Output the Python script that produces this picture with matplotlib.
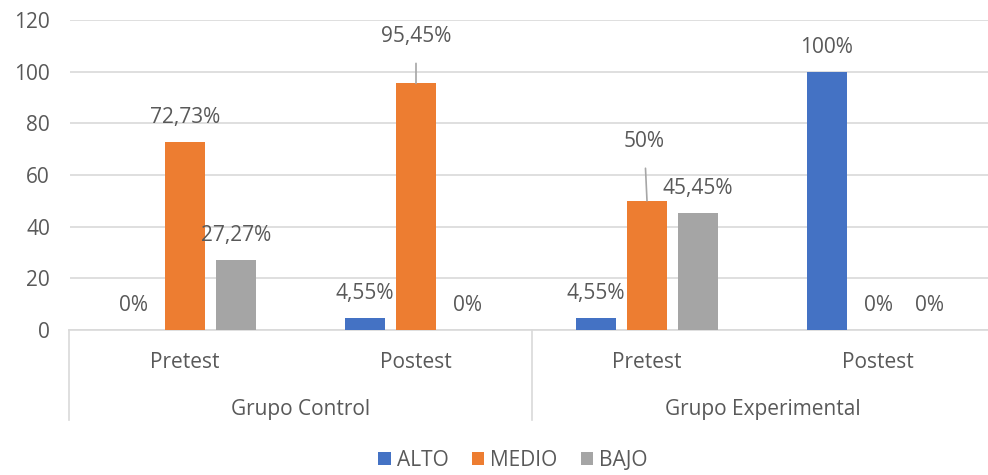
"""nivel alcanzado por grupo y momento (pretest / postest), barras agrupadas estilo excel"""
import matplotlib

matplotlib.use("Agg")
import matplotlib.pyplot as plt  # noqa: E402
import matplotlib.transforms as mtransforms  # noqa: E402
import numpy as np  # noqa: E402

plt.rcParams["font.family"] = ["Open Sans", "DejaVu Sans"]

GROUPS = ["Grupo Control", "Grupo Experimental"]
MOMENTS = ["Pretest", "Postest", "Pretest", "Postest"]
LEVELS = ["ALTO", "MEDIO", "BAJO"]
ALTO = [0.0, 4.55, 4.55, 100.0]
MEDIO = [72.73, 95.45, 50.0, 0.0]
BAJO = [27.27, 0.0, 45.45, 0.0]
LABELS = [
    ["0%", "4,55%", "4,55%", "100%"],
    ["72,73%", "95,45%", "50%", "0%"],
    ["27,27%", "0%", "45,45%", "0%"],
]
COLORS = ["#4472C4", "#ED7D31", "#A5A5A5"]
TXT = "#595959"
GRID = "#d9d9d9"
FS = 15

W, H = 988, 475
fig = plt.figure(figsize=(W / 100, H / 100), dpi=100)
ax = fig.add_axes([69.5 / W, 1 - 330 / H, 924 / W, 310 / H])

x = np.arange(len(MOMENTS))
step, width = 0.221, 0.173
series = [ALTO, MEDIO, BAJO]
# label offsets in points (excel moved two labels up with leader lines)
special = {(1, 1): (0, 34), (1, 2): (-2, 43)}
for i, (vals, col, name) in enumerate(zip(series, COLORS, LEVELS)):
    xs = x + (i - 1) * step
    ax.bar(xs, vals, width, color=col, label=name, zorder=3)
    for j, (xx, v) in enumerate(zip(xs, vals)):
        dx, dy = special.get((i, j), (0, 17.5))
        arrow = None
        if (i, j) in special:
            arrow = dict(arrowstyle="-", color="#a6a6a6", lw=1.2, shrinkA=10, shrinkB=0)
        ax.annotate(LABELS[i][j], xy=(xx, v), xytext=(dx, dy), textcoords="offset points",
                    ha="center", va="center", fontsize=FS, color=TXT, arrowprops=arrow)

ax.set_xlim(-0.5, 3.5)
ax.set_ylim(0, 120)
ax.set_yticks(range(0, 121, 20))
ax.tick_params(axis="y", length=0, labelsize=FS, labelcolor=TXT, pad=14)
ax.set_xticks([])
ax.grid(axis="y", color=GRID, lw=1.2, zorder=0)
for s in ["top", "right", "left"]:
    ax.spines[s].set_visible(False)
ax.spines["bottom"].set_color(GRID)
ax.spines["bottom"].set_linewidth(1.2)

# two-level category axis
trans = mtransforms.blended_transform_factory(ax.transData, fig.transFigure)
for xx, m in zip(x, MOMENTS):
    ax.text(xx, 1 - 362 / H, m, transform=trans, ha="center", va="center",
            fontsize=FS, color=TXT)
for g, name in enumerate(GROUPS):
    ax.text(2 * g + 0.5, 1 - 409 / H, name, transform=trans, ha="center", va="center",
            fontsize=FS, color=TXT)
for sep in [-0.5, 1.5, 3.5]:
    ax.plot([sep, sep], [1 - 330 / H, 1 - 420 / H], transform=trans, color=GRID,
            lw=1.2, clip_on=False)

fig.legend(loc="center", bbox_to_anchor=(513 / W, 1 - 460 / H), ncol=3, frameon=False,
           fontsize=FS, labelcolor=TXT, handlelength=0.6, handleheight=0.6,
           handletextpad=0.3, columnspacing=1.1)

fig.savefig("out.png", dpi=100)
